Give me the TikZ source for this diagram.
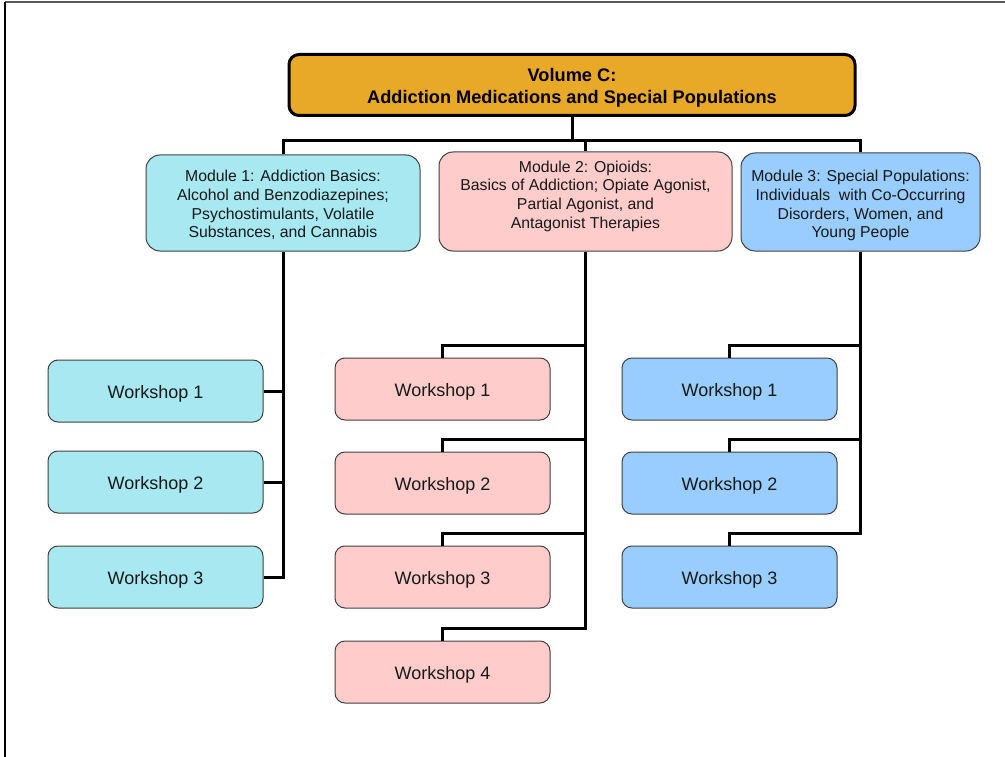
\documentclass[tikz,border=0pt]{standalone}
\usepackage{fontspec}
\setmainfont{Liberation Sans}
\usetikzlibrary{positioning}

\definecolor{volgold}{RGB}{232,168,40}
\definecolor{modcyan}{RGB}{168,232,240}
\definecolor{modpink}{RGB}{255,204,204}
\definecolor{modblue}{RGB}{153,204,255}

\begin{document}
\begin{tikzpicture}[x=1pt, y=-1pt,
	box/.style={draw=black!75, line width=1pt, rounded corners=10pt, inner sep=0pt, align=center, text=black!90},
	modbox/.style={box, rounded corners=14pt, font=\fontsize{15.8}{18.7}\selectfont},
	wsbox/.style={box, minimum width=215pt, minimum height=62pt, font=\fontsize{18}{22}\selectfont,
		execute at begin node=\rule{0pt}{19pt}},
	conn/.style={line width=3pt}]
	
	\useasboundingbox (0,0) rectangle (1005,757);
	
	% Page frame
	\draw[black!65, line width=1.5pt] (5,2) -- (1005,2);
	\draw[line width=1.5pt] (5,2) -- (5,757);
	
	% --- VOLUME ---
	\node[draw=black, line width=3pt, fill=volgold, rounded corners=10pt, inner sep=0pt,
		minimum width=566pt, minimum height=61pt, align=center,
		font=\bfseries\fontsize{18.2}{22}\selectfont] (vol) at (572,85)
		{\rule{0pt}{19pt}Volume C:\\Addiction Medications and Special Populations};
	\coordinate (bus) at (572,141);
	
	% --- MODULES ---
	\node[modbox, fill=modcyan, minimum width=274pt, minimum height=96pt] (m1) at (283,203)
		{\rule{0pt}{15.5pt}Module 1: Addiction Basics:\\Alcohol and Benzodiazepines;\\Psychostimulants, Volatile\\Substances, and Cannabis};
	\node[modbox, fill=modpink, minimum width=293pt, minimum height=99pt] (m2) at (585.5,201.5)
		{Module 2: Opioids:\\Basics of Addiction; Opiate Agonist,\\Partial Agonist, and\\Antagonist Therapies\rule[-14pt]{0pt}{0pt}};
	\node[modbox, fill=modblue, minimum width=239pt, minimum height=98pt] (m3) at (860.5,202)
		{\rule{0pt}{19pt}Module 3: Special Populations:\\Individuals\ \ with Co-Occurring\\Disorders, Women, and\\Young People};
	
	% --- WORKSHOPS ---
	\node[wsbox, fill=modcyan] (w11) at (155.5,391) {Workshop 1};
	\node[wsbox, fill=modcyan] (w12) at (155.5,482) {Workshop 2};
	\node[wsbox, fill=modcyan] (w13) at (155.5,577) {Workshop 3};
	
	\node[wsbox, fill=modpink] (w21) at (442.5,389) {Workshop 1};
	\node[wsbox, fill=modpink] (w22) at (442.5,483) {Workshop 2};
	\node[wsbox, fill=modpink] (w23) at (442.5,577) {Workshop 3};
	\node[wsbox, fill=modpink] (w24) at (442.5,672) {Workshop 4};
	
	\node[wsbox, fill=modblue] (w31) at (729.5,389) {Workshop 1};
	\node[wsbox, fill=modblue] (w32) at (729.5,483) {Workshop 2};
	\node[wsbox, fill=modblue] (w33) at (729.5,577) {Workshop 3};
	
	% --- CONNECTORS ---
	\draw[conn] (vol.south) -- (bus);
	\draw[conn] (m1.north) |- (bus) -| (m3.north);
	\draw[conn] (m2.north) -- (m2.north |- bus);
	
	% Module 1 feeds from the side
	\draw[conn] (m1.south) |- (w13.east);
	\foreach \i in {1,2}
		\draw[conn] (w1\i.east) -- (w1\i.east -| m1.south);
	
	% Modules 2 and 3 drop onto the workshop tops
	\foreach \i in {1,...,4}
		\draw[conn] (m2.south) |- ([yshift=12pt]w2\i.north) -- (w2\i.north);
	\foreach \i in {1,...,3}
		\draw[conn] (m3.south) |- ([yshift=12pt]w3\i.north) -- (w3\i.north);
	
\end{tikzpicture}
\end{document}
